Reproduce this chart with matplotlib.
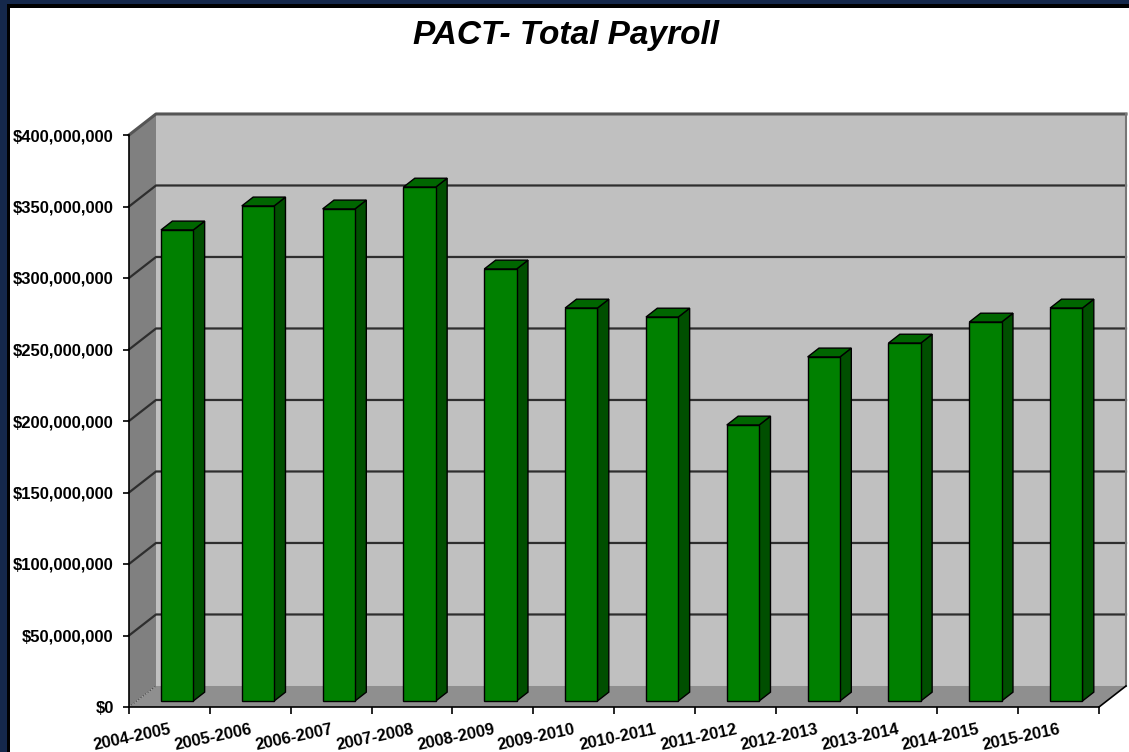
import matplotlib
matplotlib.use("Agg")
import matplotlib.pyplot as plt
from matplotlib.patches import Polygon, Rectangle
from matplotlib.ticker import FixedLocator, FuncFormatter
import numpy as np

plt.rcParams['font.family'] = ['Liberation Sans', 'DejaVu Sans']

# payroll per school year, in millions of dollars
years = ['2004-2005', '2005-2006', '2006-2007', '2007-2008', '2008-2009', '2009-2010',
         '2010-2011', '2011-2012', '2012-2013', '2013-2014', '2014-2015', '2015-2016']
payroll_m = [329.4, 346.2, 344.1, 359.4, 302.1, 274.8, 268.5, 193.0, 240.6, 250.3, 265.0, 274.8]
y_ticks = [0, 50, 100, 150, 200, 250, 300, 350, 400]

# fake 3d look: oblique offset of the back wall (data units)
DX = 0.334
DY = 14.7
BAR_W = 0.40       # bar width as fraction of category
BAR_Z = 0.286      # depth of bar front face (0 = front, 1 = back wall)
BAR_D = 0.42       # bar depth

FRONT = '#008000'
SIDE = '#004f00'
TOP = '#006600'

fig = plt.figure(figsize=(11.29, 7.52), dpi=100)
fig.patch.set_facecolor('white')

ax = fig.add_axes([129 / 1129, 45 / 752, 970 / 1129, 572 / 752])
ax.patch.set_visible(False)
n = len(years)
ymax = y_ticks[-1]
ax.set_xlim(0, n)
ax.set_ylim(0, ymax)

# walls and floor
left_wall = Polygon([(0, 0), (0, ymax), (DX, ymax + DY), (DX, DY)],
                    closed=True, fc='#808080', ec='none', clip_on=False, zorder=0)
back_wall = Polygon([(DX, DY), (DX, ymax + DY), (n + DX, ymax + DY), (n + DX, DY)],
                    closed=True, fc='#c0c0c0', ec='none', clip_on=False, zorder=0)
floor = Polygon([(0, 0), (n, 0), (n + DX, DY), (DX, DY)],
                closed=True, fc='#8f8f8f', ec='none', clip_on=False, zorder=0.5)
for p in (left_wall, back_wall, floor):
    ax.add_patch(p)

# gridlines on left and back walls
for v in y_ticks[1:-1]:
    ax.plot([0, DX, n + DX], [v, v + DY, v + DY], color='#2e2e2e', lw=1.6,
            clip_on=False, zorder=1)
ax.plot([0, DX, n + DX], [ymax, ymax + DY, ymax + DY], color='#555555', lw=2.2,
        clip_on=False, zorder=1)
ax.plot([n + DX, n + DX], [DY, ymax + DY], color='#777777', lw=1.5, clip_on=False, zorder=1)
ax.plot([0, DX], [0, DY], color='#444444', lw=0.8, ls=':', clip_on=False, zorder=1)
ax.plot([n, n + DX], [0, DY], color='black', lw=1.2, clip_on=False, zorder=3)

# bars
x_off = BAR_Z * DX
y_off = BAR_Z * DY
dx = BAR_D * DX
dy = BAR_D * DY
for i, v in enumerate(payroll_m):
    xl = i + (1 - BAR_W) / 2 + x_off
    xr = xl + BAR_W
    y0 = y_off
    y1 = v + y_off
    side = Polygon([(xr, y0), (xr, y1), (xr + dx, y1 + dy), (xr + dx, y0 + dy)],
                   closed=True, fc=SIDE, ec='black', lw=1.0, clip_on=False, zorder=2)
    top = Polygon([(xl, y1), (xr, y1), (xr + dx, y1 + dy), (xl + dx, y1 + dy)],
                  closed=True, fc=TOP, ec='black', lw=1.0, clip_on=False, zorder=2)
    front = Rectangle((xl, y0), BAR_W, v, fc=FRONT, ec='black', lw=1.0,
                      clip_on=False, zorder=2.2)
    ax.add_patch(side)
    ax.add_patch(top)
    ax.add_patch(front)

# axes
for s in ('top', 'right'):
    ax.spines[s].set_visible(False)
ax.spines['left'].set_linewidth(1.2)
ax.spines['bottom'].set_linewidth(1.2)
ax.spines['left'].set_zorder(3)
ax.spines['bottom'].set_zorder(3)

ax.yaxis.set_major_locator(FixedLocator(y_ticks))
ax.yaxis.set_major_formatter(FuncFormatter(lambda v, p: '${:,.0f}'.format(v * 1e6)))
ax.tick_params(axis='y', direction='out', length=4, width=1.2, pad=7,
               labelsize=12)
for lab in ax.get_yticklabels():
    lab.set_fontweight('bold')

ax.xaxis.set_major_locator(FixedLocator(np.arange(n + 1)))
ax.xaxis.set_major_formatter(FuncFormatter(lambda v, p: ''))
ax.xaxis.set_minor_locator(FixedLocator(np.arange(n) + 0.5))
ax.set_xticklabels(years, minor=True)
ax.tick_params(axis='x', which='major', direction='out', length=5, width=1.2)
ax.tick_params(axis='x', which='minor', length=0, pad=11, labelsize=12)
for lab in ax.get_xticklabels(minor=True):
    lab.set_fontweight('bold')
    lab.set_rotation(12)
    lab.set_rotation_mode('anchor')
    lab.set_ha('right')
    lab.set_va('top')

fig.text(0.5013, 0.942, 'PACT- Total Payroll', ha='center', va='baseline',
         fontsize=24, fontweight='bold', fontstyle='italic')

# slide frame: navy band and black line at top and left
fig.add_artist(Rectangle((0, 1 - 4 / 752), 1, 4 / 752, transform=fig.transFigure,
                         fc='#15284b', ec='none'))
fig.add_artist(Rectangle((0, 1 - 8 / 752), 1, 4 / 752, transform=fig.transFigure,
                         fc='black', ec='none'))
fig.add_artist(Rectangle((0, 0), 7 / 1129, 1, transform=fig.transFigure,
                         fc='#15284b', ec='none'))
fig.add_artist(Rectangle((7 / 1129, 0), 3 / 1129, 1 - 4 / 752, transform=fig.transFigure,
                         fc='black', ec='none'))

fig.savefig('out.png', dpi=100)
